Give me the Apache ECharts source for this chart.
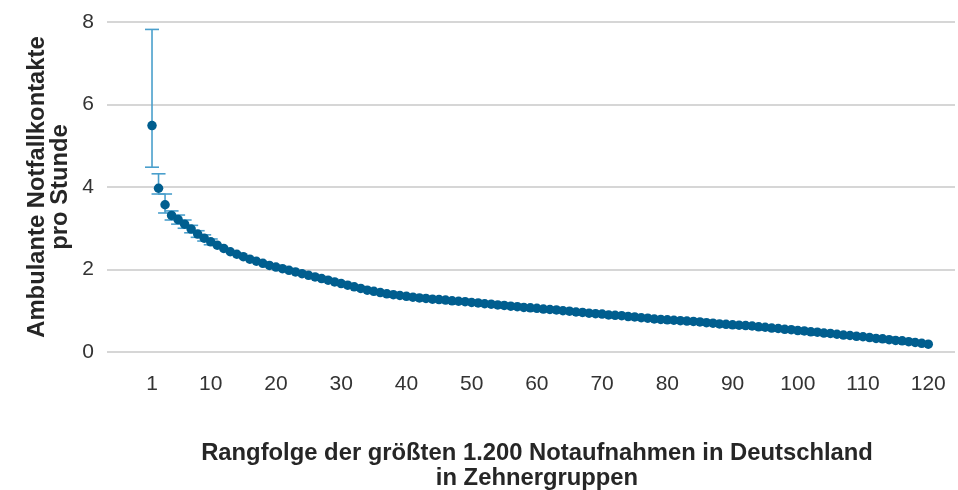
<!DOCTYPE html>
<html>
<head>
<meta charset="utf-8">
<script src="https://cdn.jsdelivr.net/npm/echarts@6/dist/echarts.min.js"></script>
<style>
  html, body { margin: 0; padding: 0; background: #fff; }
  #chart { width: 958px; height: 490px; }
</style>
</head>
<body>
<div id="chart"></div>
<script>
// Rang 1..120 (Zehnergruppen)
const ranks = [];
for (let i = 1; i <= 120; i++) ranks.push(i);

// Ambulante Notfallkontakte pro Stunde (Mittelwert je Gruppe)
const kontakte = [
  5.49, 3.97, 3.57, 3.31, 3.21, 3.10, 2.98, 2.86, 2.76, 2.67,
  2.59, 2.51, 2.43, 2.37, 2.31, 2.25, 2.20, 2.15, 2.10, 2.06,
  2.02, 1.98, 1.94, 1.90, 1.86, 1.82, 1.78, 1.74, 1.70, 1.66,
  1.62, 1.58, 1.54, 1.50, 1.47, 1.44, 1.41, 1.39, 1.37, 1.35,
  1.33, 1.31, 1.30, 1.28, 1.27, 1.26, 1.24, 1.23, 1.22, 1.20,
  1.19, 1.17, 1.16, 1.14, 1.13, 1.11, 1.10, 1.08, 1.07, 1.06,
  1.04, 1.03, 1.02, 1.00, 0.99, 0.97, 0.96, 0.94, 0.93, 0.92,
  0.90, 0.89, 0.88, 0.86, 0.85, 0.83, 0.82, 0.80, 0.79, 0.78,
  0.77, 0.76, 0.75, 0.74, 0.73, 0.71, 0.70, 0.68, 0.67, 0.66,
  0.65, 0.64, 0.63, 0.61, 0.60, 0.58, 0.57, 0.55, 0.54, 0.52,
  0.51, 0.49, 0.48, 0.46, 0.45, 0.43, 0.41, 0.40, 0.38, 0.37,
  0.35, 0.33, 0.32, 0.30, 0.28, 0.27, 0.25, 0.23, 0.21, 0.19
];

// Fehlerbalken (nur die ersten Gruppen sichtbar)
const errRank = [1, 2, 3, 4, 5, 6, 7, 8, 9, 10];
const errLow  = [4.48, 3.83, 3.37, 3.20, 3.10, 3.00, 2.89, 2.78, 2.69, 2.60];
const errHigh = [7.82, 4.32, 3.83, 3.42, 3.32, 3.20, 3.07, 2.94, 2.84, 2.74];

const xTicks = [1, 10, 20, 30, 40, 50, 60, 70, 80, 90, 100, 110, 120];
const yTicks = [0, 2, 4, 6, 8];

let myChart = echarts.init(document.getElementById('chart'));

const points = ranks.map((r, i) => [r, kontakte[i]]);
const errData = errRank.map((r, i) => [r, errLow[i], errHigh[i]]);

option = {
  animation: false,
  backgroundColor: '#fff',
  textStyle: { fontFamily: 'Liberation Sans, Arial, sans-serif' },
  grid: { left: 107, right: 3, top: 22, bottom: 138 },
  xAxis: {
    type: 'value',
    min: -5.9,
    max: 124.1,
    axisLine: { show: false },
    axisTick: { show: false },
    splitLine: { show: false },
    axisLabel: {
      customValues: xTicks,
      fontSize: 21,
      color: '#333',
      margin: 22
    }
  },
  yAxis: {
    type: 'value',
    min: yTicks[0],
    max: yTicks[yTicks.length - 1],
    interval: 2,
    axisLine: { show: false },
    axisTick: { show: false },
    splitLine: { lineStyle: { color: '#c8c8c8', width: 1.5 } },
    axisLabel: { fontSize: 21, color: '#333', margin: 13 }
  },
  graphic: [
    {
      type: 'text',
      x: 49, y: 187,
      rotation: Math.PI / 2,
      style: {
        text: 'Ambulante Notfallkontakte\npro Stunde',
        font: 'bold 23.8px "Liberation Sans", Arial, sans-serif',
        fill: '#262626',
        align: 'center',
        verticalAlign: 'middle',
        lineHeight: 23
      }
    },
    {
      type: 'text',
      x: 537, y: 466,
      style: {
        text: 'Rangfolge der größten 1.200 Notaufnahmen in Deutschland\nin Zehnergruppen',
        font: 'bold 23.8px "Liberation Sans", Arial, sans-serif',
        fill: '#262626',
        align: 'center',
        verticalAlign: 'middle',
        lineHeight: 25
      }
    }
  ],
  series: [
    {
      type: 'custom',
      z: 2,
      data: errData,
      renderItem: function (params, api) {
        const x = api.value(0);
        const lo = api.coord([x, api.value(1)]);
        const hi = api.coord([x, api.value(2)]);
        const w = 7;
        const style = { stroke: '#4a9fcc', lineWidth: 1.6 };
        return {
          type: 'group',
          children: [
            { type: 'line', shape: { x1: lo[0], y1: lo[1], x2: hi[0], y2: hi[1] }, style: style },
            { type: 'line', shape: { x1: lo[0] - w, y1: lo[1], x2: lo[0] + w, y2: lo[1] }, style: style },
            { type: 'line', shape: { x1: hi[0] - w, y1: hi[1], x2: hi[0] + w, y2: hi[1] }, style: style }
          ]
        };
      }
    },
    {
      type: 'scatter',
      z: 3,
      data: points,
      symbol: 'circle',
      symbolSize: 9.5,
      itemStyle: { color: '#005e8f', opacity: 1 }
    }
  ]
};

myChart.setOption(option);
</script>
</body>
</html>
